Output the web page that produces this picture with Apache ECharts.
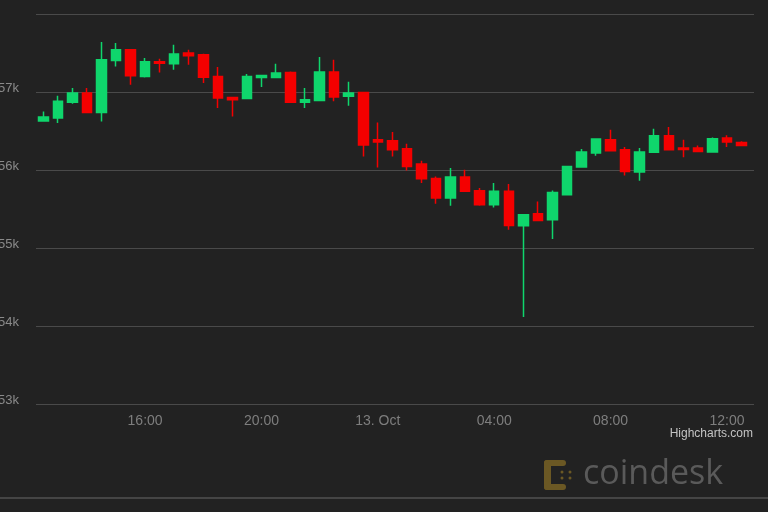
<!DOCTYPE html>
<html>
<head>
<meta charset="utf-8">
<script src="https://cdn.jsdelivr.net/npm/echarts@6/dist/echarts.min.js"></script>
<style>
html,body{margin:0;padding:0;background:#222222;}
#chart{width:768px;height:512px;}
</style>
</head>
<body>
<div id="chart"></div>
<script>
// time of each 30-minute candle, in hours since 12 Oct 00:00
const times = [12.5,13,13.5,14,14.5,15,15.5,16,16.5,17,17.5,18,18.5,19,19.5,20,20.5,21,21.5,22,22.5,23,23.5,24,24.5,25,25.5,26,26.5,27,27.5,28,28.5,29,29.5,30,30.5,31,31.5,32,32.5,33,33.5,34,34.5,35,35.5,36,36.5];
const opens  = [56628,56667,56867,56987,56738,57405,57542,57200,57388,57363,57500,57478,57200,56931,56918,57187,57187,57251,56867,56892,57256,56944,56995,56388,56376,56273,56077,55892,55641,55910,55735,55555,55726,55286,55440,55363,55683,56038,56218,56388,56260,55974,56226,56440,56282,56282,56231,56410,56354];
const closes = [56680,56880,56987,56738,57414,57542,57209,57388,57367,57487,57465,57190,56923,56901,57200,57213,57244,56867,56901,57256,56936,56987,56320,56359,56260,56046,55888,55641,55910,55726,55555,55726,55290,55427,55354,55713,56046,56231,56397,56247,55982,56231,56440,56260,56264,56238,56401,56359,56315];
const lows   = [56619,56603,56850,56730,56623,57328,57094,57187,57251,57286,57350,57115,56795,56687,56915,57064,57185,56860,56795,56890,56880,56824,56174,56033,56174,55995,55833,55568,55542,55720,55542,55520,55235,54115,55350,55115,55680,56038,56183,56245,55931,55863,56225,56258,56162,56235,56229,56295,56313];
const highs  = [56751,56953,57051,57051,57641,57628,57545,57436,57427,57606,57542,57490,57320,56935,57231,57215,57363,57264,57051,57449,57414,57132,56995,56610,56487,56337,56119,55918,56026,56004,55769,55833,55820,55427,55597,55738,56050,56269,56400,56517,56295,56282,56529,56551,56388,56315,56418,56444,56367];
const xTickValues = [16,20,24,28,32,36];
const xTickLabels = ['16:00','20:00','13. Oct','04:00','08:00','12:00'];

const candles = times.map((t,i)=>[t, opens[i], closes[i], lows[i], highs[i]]);

const chart = echarts.init(document.getElementById('chart'), null, {renderer:'canvas'});
const FONT = '"Liberation Sans", Arial, sans-serif';
chart.setOption({
  backgroundColor: '#222222',
  animation: false,
  grid: {left: 36, right: 14, top: 14, height: 390, containLabel: false, outerBoundsMode: 'none'},
  xAxis: {
    type: 'value',
    min: 12.25,
    max: 36.93,
    axisLine: {show: false},
    axisTick: {show: false},
    splitLine: {show: false},
    axisLabel: {
      customValues: xTickValues,
      formatter: (v) => { const k = xTickValues.indexOf(v); return k >= 0 ? xTickLabels[k] : ''; },
      color: '#7e7e7e',
      fontSize: 14,
      fontFamily: FONT,
      margin: 10
    }
  },
  yAxis: {
    type: 'value',
    min: 53000,
    max: 58000,
    interval: 1000,
    axisLine: {show: false},
    axisTick: {show: false},
    splitLine: {lineStyle: {color: '#4a4a4a', width: 1}},
    axisLabel: {
      showMaxLabel: false,
      formatter: (v) => (v/1000) + 'k',
      color: '#8a8a8a',
      fontSize: 13,
      fontFamily: FONT,
      margin: 17,
      verticalAlign: 'bottom',
      lineHeight: 7
    }
  },
  series: [{
    type: 'candlestick',
    data: candles,
    encode: {x: 0, y: [1,2,3,4]},
    barWidth: 10,
    itemStyle: {
      color: '#0fd66c',
      color0: '#f40000',
      borderColor: '#0fd66c',
      borderColor0: '#f40000',
      borderWidth: 1.5
    }
  }],
  graphic: [
    {type:'text', right: 15, top: 428, style:{text:'Highcharts.com', fill:'#c4c4c4', font:'12px ' + FONT}},
    {type:'rect', left: 0, top: 497, shape:{width:768, height:2}, style:{fill:'#454545'}},
    // coindesk watermark icon
    {type:'rect', shape:{x:544, y:460, width:7, height:30, r:3}, style:{fill:'#6b5824'}},
    {type:'rect', shape:{x:544, y:460, width:22, height:6, r:3}, style:{fill:'#6b5824'}},
    {type:'rect', shape:{x:544, y:484, width:22, height:6, r:3}, style:{fill:'#6b5824'}},
    {type:'circle', shape:{cx:562, cy:472, r:1.5}, style:{fill:'#6b5824'}},
    {type:'circle', shape:{cx:570, cy:472, r:1.5}, style:{fill:'#6b5824'}},
    {type:'circle', shape:{cx:562, cy:478, r:1.5}, style:{fill:'#6b5824'}},
    {type:'circle', shape:{cx:570, cy:478, r:1.5}, style:{fill:'#6b5824'}},
    {type:'text', left: 583, top: 457, style:{text:'coindesk', fill:'#5a5a5a', font:'34px "Open Sans", sans-serif'}}
  ]
});
</script>
</body>
</html>
